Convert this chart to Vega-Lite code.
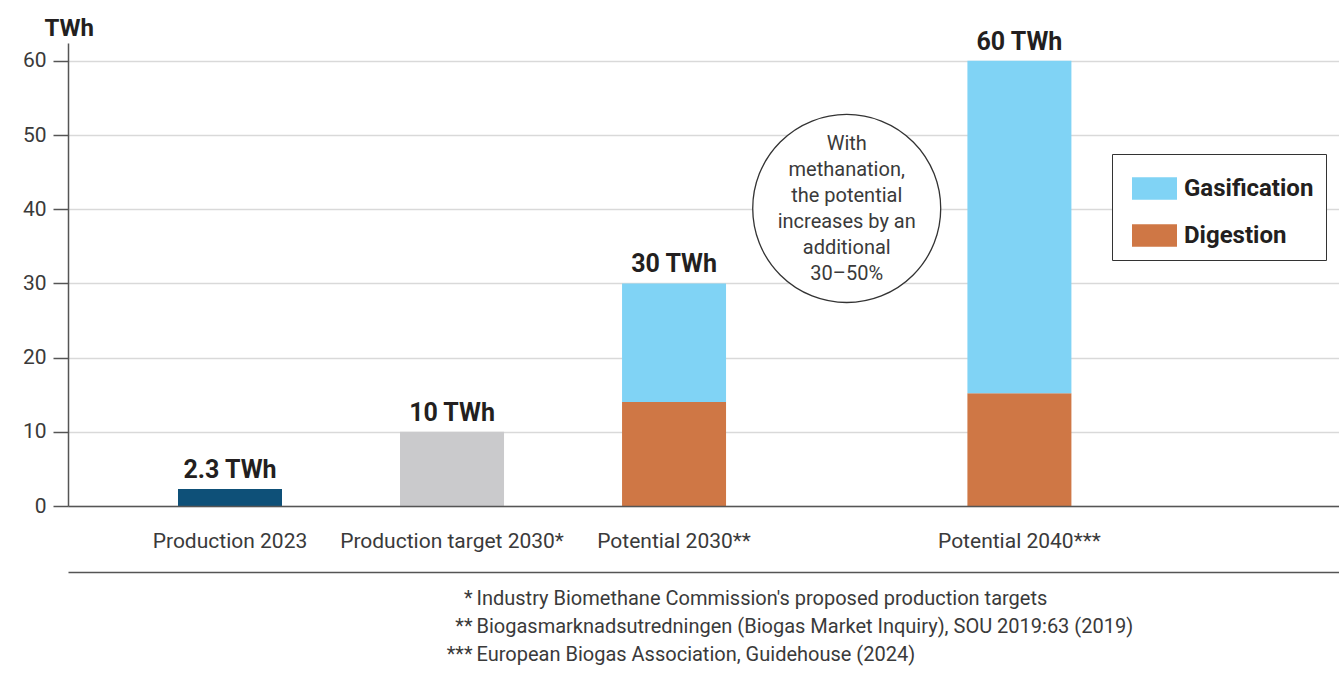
{
  "$schema": "https://vega.github.io/schema/vega-lite/v6.json",
  "autosize": {"type": "none"},
  "width": 1271,
  "height": 463,
  "padding": {"left": 68, "top": 43, "right": 0, "bottom": 168},
  "background": "white",
  "config": {
    "font": "Roboto",
    "view": {"stroke": null},
    "text": {"font": "Roboto"}
  },
  "data": {
    "values": [
      {"cat": "Production 2023", "type": "Production", "value": 2.3},
      {"cat": "Production target 2030*", "type": "Target", "value": 10},
      {"cat": "Potential 2030**", "type": "Digestion", "value": 14},
      {"cat": "Potential 2030**", "type": "Gasification", "value": 16},
      {"cat": "Potential 2040***", "type": "Digestion", "value": 15.2},
      {"cat": "Potential 2040***", "type": "Gasification", "value": 44.8}
    ]
  },
  "resolve": {"axis": {"x": "independent"}},
  "layer": [
    {
      "mark": {"type": "bar", "width": 104},
      "encoding": {
        "x": {
          "field": "cat",
          "type": "nominal",
          "sort": null,
          "scale": {
            "domain": [
              "gap1", "gap2", "gap3", "gap4", "gap5", "gap6",
              "Production 2023", "gap7", "gap8", "gap9", "gap10", "gap11", "gap12", "gap13", "gap14",
              "Production target 2030*", "gap15", "gap16", "gap17", "gap18", "gap19", "gap20", "gap21", "gap22",
              "Potential 2030**", "gap23", "gap24", "gap25", "gap26", "gap27", "gap28", "gap29", "gap30", "gap31", "gap32", "gap33", "gap34", "gap35",
              "Potential 2040***", "gap36", "gap37", "gap38", "gap39", "gap40", "gap41", "gap42", "gap43", "gap44", "gap45", "gap46", "gap47"
            ],
            "paddingInner": 0,
            "paddingOuter": 0.261,
            "align": 0.128
          },
          "axis": {
            "orient": "bottom",
            "title": null,
            "labelExpr": "indexof(datum.value, 'gap') === 0 ? '' : datum.label",
            "labelAngle": 0,
            "labelFontSize": 21,
            "labelColor": "#3a3a3a",
            "labelBaseline": "alphabetic",
            "labelPadding": 41,
            "labelLimit": 400,
            "ticks": false,
            "tickSize": 0,
            "grid": false,
            "domainColor": "#555555",
            "domainWidth": 1.5,
            "zindex": 1
          }
        },
        "y": {
          "field": "value",
          "type": "quantitative",
          "stack": "zero",
          "scale": {"domain": [0, 62.4], "nice": false},
          "axis": {
            "values": [0, 10, 20, 30, 40, 50, 60],
            "grid": true,
            "gridColor": "#d9d9d9",
            "gridWidth": 1.5,
            "domainColor": "#555555",
            "domainWidth": 1.5,
            "tickColor": "#555555",
            "tickWidth": 1.5,
            "tickSize": 15,
            "labelFontSize": 21,
            "labelColor": "#3a3a3a",
            "labelPadding": 7,
            "title": "TWh",
            "titleFontSize": 24,
            "titleFontWeight": "bold",
            "titleColor": "#231f20",
            "titleAngle": 0,
            "titleAlign": "left",
            "titleBaseline": "alphabetic",
            "titleX": -24,
            "titleY": -8
          }
        },
        "color": {
          "field": "type",
          "type": "nominal",
          "scale": {
            "domain": ["Production", "Target", "Gasification", "Digestion"],
            "range": ["#0e5078", "#cacacc", "#80d3f5", "#cf7745"]
          },
          "legend": {
            "values": ["Gasification", "Digestion"],
            "title": null,
            "orient": "none",
            "legendX": 1044,
            "legendY": 111,
            "strokeColor": "#333333",
            "fillColor": "white",
            "padding": 12,
            "rowPadding": 12,
            "symbolType": "M-1,-0.5H1V0.5H-1Z",
            "symbolSize": 2025,
            "symbolStrokeWidth": 0,
            "symbolOpacity": 1,
            "symbolOffset": 8,
            "labelOffset": 7,
            "labelFontSize": 24,
            "labelFontWeight": "bold",
            "labelColor": "#231f20"
          }
        },
        "order": {"field": "type", "sort": "ascending"}
      }
    },
    {
      "transform": [
        {"aggregate": [{"op": "sum", "field": "value", "as": "total"}], "groupby": ["cat"]},
        {"calculate": "format(datum.total, '.1~f') + ' TWh'", "as": "label"}
      ],
      "mark": {"type": "text", "fontSize": 25, "fontWeight": "bold", "color": "#231f20", "baseline": "alphabetic", "align": "center", "dy": -11},
      "encoding": {
        "x": {
          "field": "cat",
          "type": "nominal",
          "sort": null,
          "axis": {
            "orient": "bottom",
            "offset": 66,
            "labels": false,
            "ticks": false,
            "grid": false,
            "domainColor": "#555555",
            "domainWidth": 1.5,
            "zindex": 1,
            "title": [
              "Industry Biomethane Commission's proposed production targets",
              "Biogasmarknadsutredningen (Biogas Market Inquiry), SOU 2019:63 (2019)",
              "European Biogas Association, Guidehouse (2024)"
            ],
            "titleFontSize": 20,
            "titleFontWeight": "normal",
            "titleColor": "#3a3a3a",
            "titleAngle": 0,
            "titleAlign": "left",
            "titleBaseline": "alphabetic",
            "titleLineHeight": 28,
            "titleX": 408,
            "titleY": 32
          }
        },
        "y": {"field": "total", "type": "quantitative"},
        "text": {"field": "label"}
      }
    },
    {
      "data": {"values": [{}]},
      "mark": {"type": "point", "shape": "circle", "size": 35344, "filled": false, "fill": "white", "fillOpacity": 1, "stroke": "#333333", "strokeWidth": 1.3, "opacity": 1},
      "encoding": {
        "x": {
          "datum": "gap29",
          "type": "nominal",
          "axis": {
            "orient": "bottom",
            "offset": 66,
            "labels": false,
            "ticks": false,
            "grid": false,
            "domain": false,
            "title": ["*", "**", "***"],
            "titleFontSize": 20,
            "titleFontWeight": "normal",
            "titleColor": "#3a3a3a",
            "titleAngle": 0,
            "titleAlign": "right",
            "titleBaseline": "alphabetic",
            "titleLineHeight": 28,
            "titleX": 404,
            "titleY": 32
          }
        },
        "y": {"datum": 40.1, "type": "quantitative"}
      }
    },
    {
      "data": {"values": [{}]},
      "mark": {
        "type": "text",
        "text": ["With", "methanation,", "the potential", "increases by an", "additional", "30–50%"],
        "fontSize": 20,
        "fontWeight": "normal",
        "color": "#3a3a3a",
        "align": "center",
        "baseline": "middle",
        "lineHeight": 26,
        "dy": -64
      },
      "encoding": {
        "x": {"datum": "gap29", "type": "nominal", "axis": null},
        "y": {"datum": 40.1, "type": "quantitative"}
      }
    }
  ]
}
